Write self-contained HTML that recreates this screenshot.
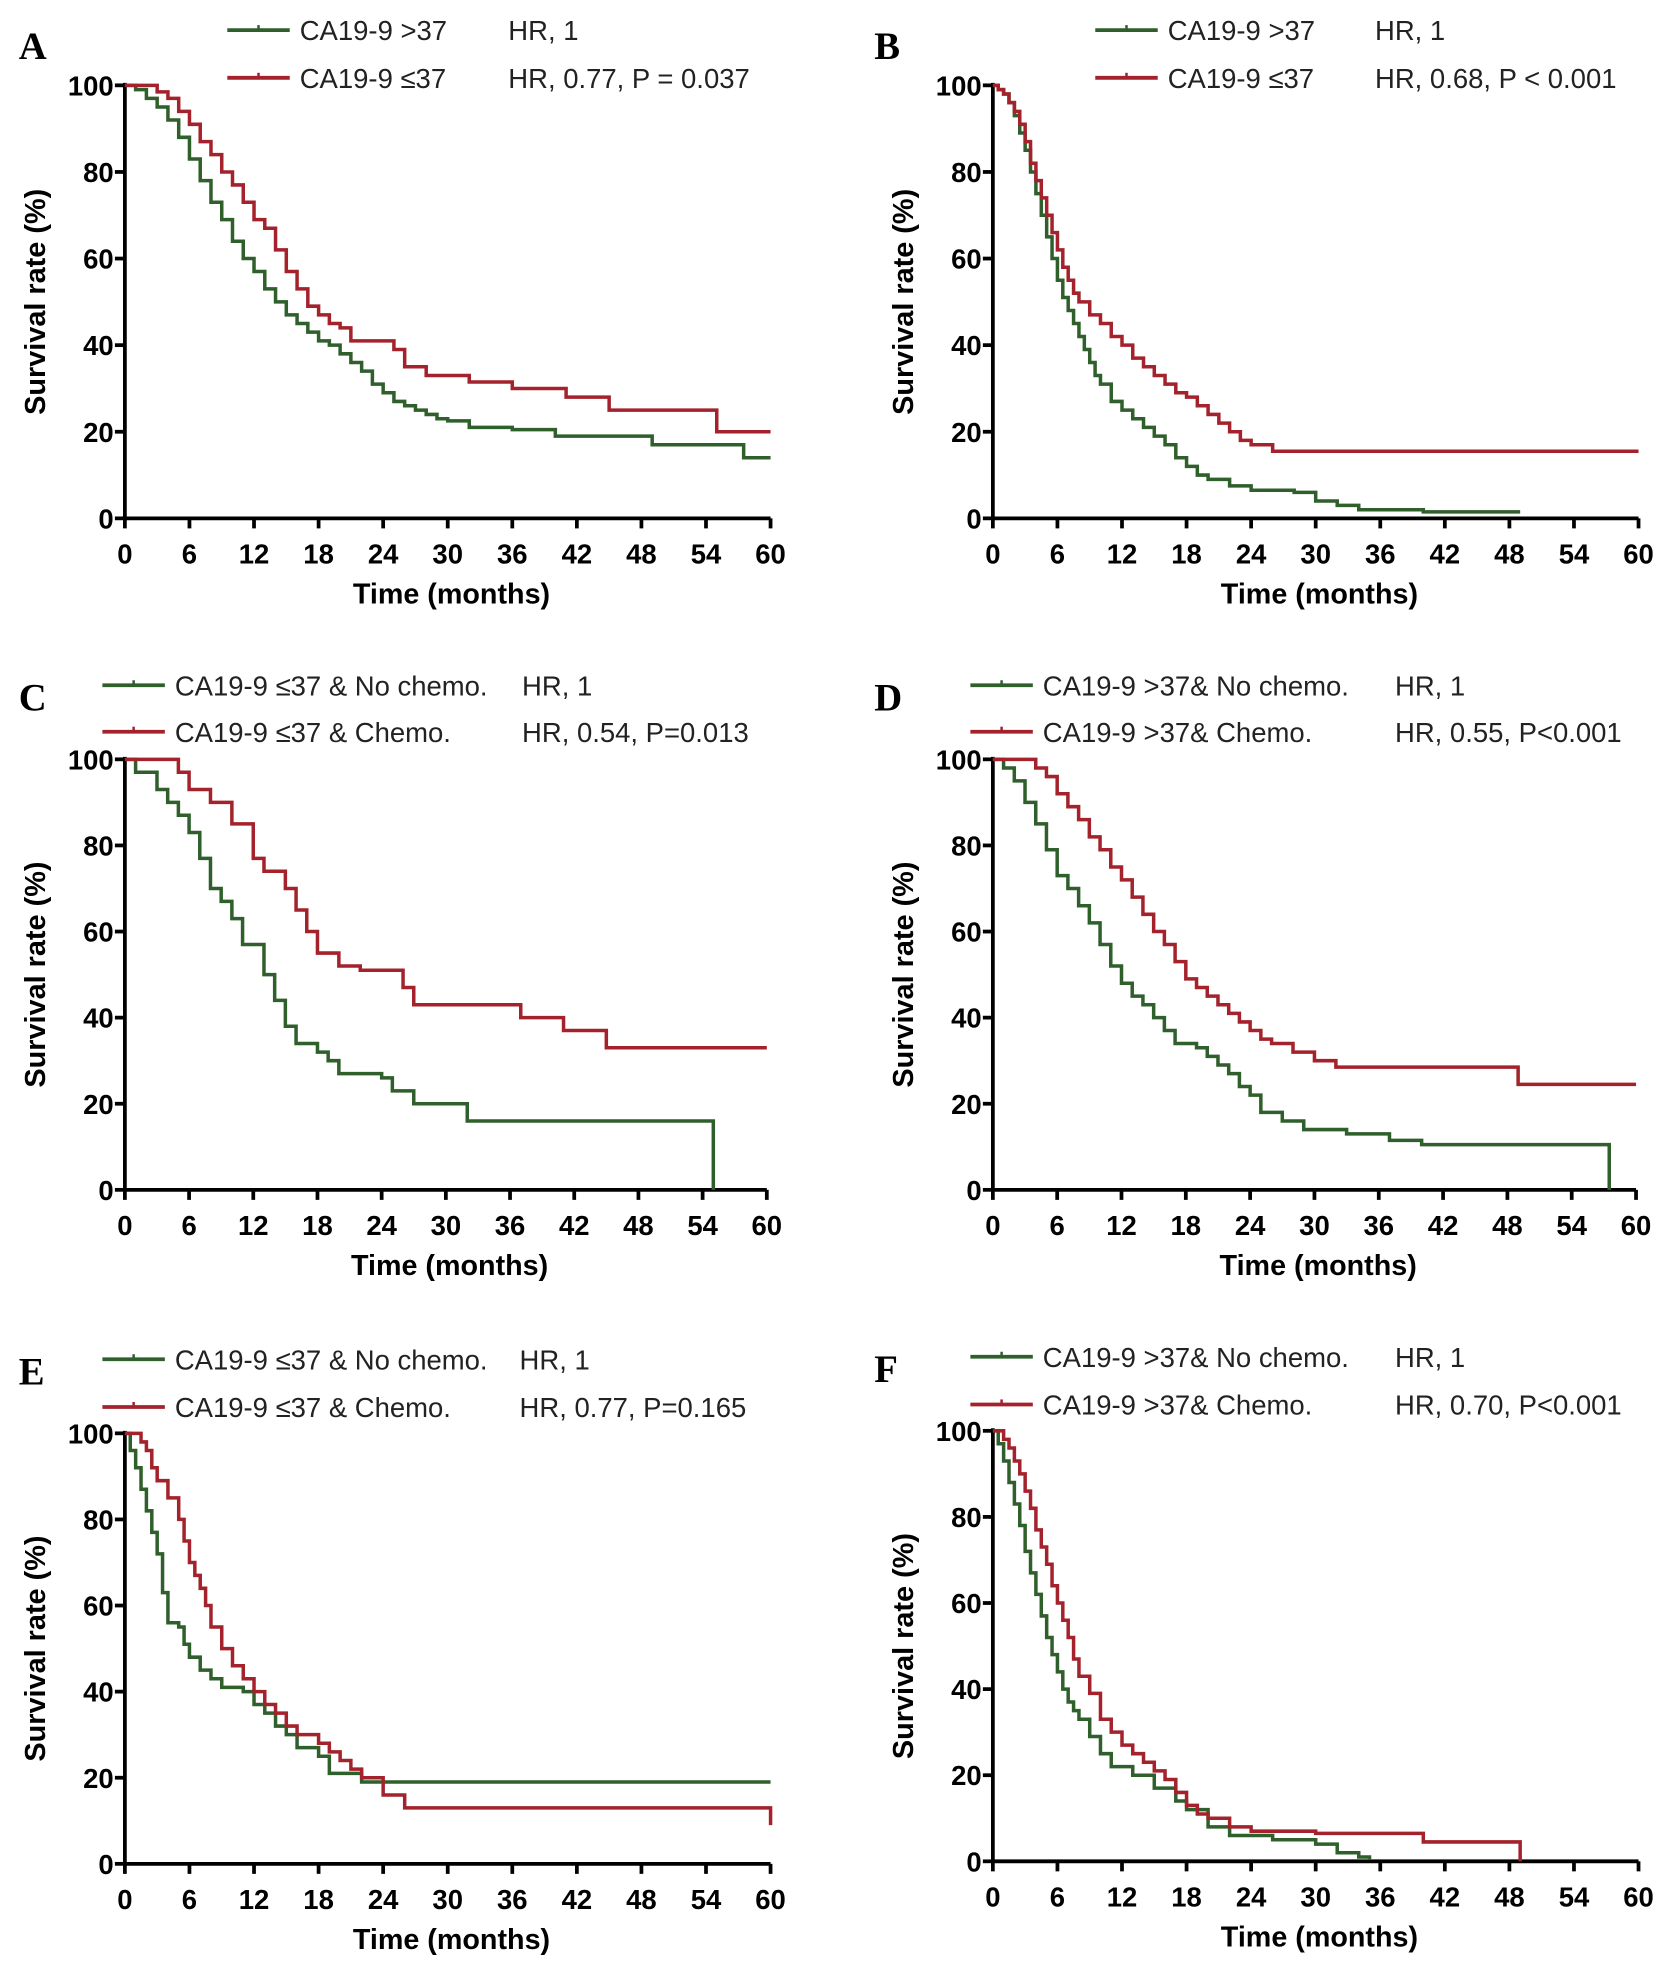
<!DOCTYPE html>
<html><head><meta charset="utf-8"><style>
html,body{margin:0;padding:0;background:#fff}
svg{display:block}
</style></head><body>
<svg id="fig" width="1676" height="1968" viewBox="0 0 1342 1568" preserveAspectRatio="none" xmlns="http://www.w3.org/2000/svg"></svg>
<script>
const xTicks=[0,6,12,18,24,30,36,42,48,54,60];
const yTicks=[0,20,40,60,80,100];
const aGreen=[[0,100],[1,99],[2,97],[3,95],[4,92],[5,88],[6,83],[7,78],[8,73],[9,69],[10,64],[11,60],[12,57],[13,53],[14,50],[15,47],[16,45],[17,43],[18,41],[19,40],[20,38],[21,36],[22,34],[23,31],[24,29],[25,27],[26,26],[27,25],[28,24],[29,23],[30,22.5],[32,21],[36,20.5],[40,19],[49,17],[57.5,14],[60,14]];
const aRed=[[0,100],[3,98.5],[4,97],[5,94],[6,91],[7,87],[8,84],[9,80],[10,77],[11,73],[12,69],[13,67],[14,62],[15,57],[16,53],[17,49],[18,47],[19,45],[20,44],[21,41],[25,39],[26,35],[28,33],[32,31.5],[36,30],[41,28],[45,25],[55,20],[60,20]];
const bGreen=[[0,100],[0.5,99],[1,98],[1.5,96],[2,93],[2.5,89],[3,85],[3.5,80],[4,75],[4.5,70],[5,65],[5.5,60],[6,55],[6.5,51],[7,48],[7.5,45],[8,42],[8.5,39],[9,36],[9.5,33],[10,31],[11,27],[12,25],[13,23],[14,21],[15,19],[16,17],[17,14],[18,12],[19,10],[20,9],[22,7.5],[24,6.5],[28,6],[30,4],[32,3],[34,2],[40,1.5],[49,1.5]];
const bRed=[[0,100],[0.5,99],[1,98],[1.5,96],[2,94],[2.5,91],[3,87],[3.5,82],[4,78],[4.5,74],[5,70],[5.5,66],[6,62],[6.5,58],[7,55],[7.5,52],[8,50],[9,47],[10,45],[11,42],[12,40],[13,37],[14,35],[15,33],[16,31],[17,29],[18,28],[19,26],[20,24],[21,22],[22,20],[23,18],[24,17],[26,15.5],[60,15.5]];
const cGreen=[[0,100],[1,97],[3,93],[4,90],[5,87],[6,83],[7,77],[8,70],[9,67],[10,63],[11,57],[13,50],[14,44],[15,38],[16,34],[18,32],[19,30],[20,27],[24,26],[25,23],[27,20],[32,16],[55,16],[55,0]];
const cRed=[[0,100],[4,100],[5,97],[6,93],[8,90],[10,85],[12,77],[13,74],[15,70],[16,65],[17,60],[18,55],[20,52],[22,51],[25,51],[26,47],[27,43],[37,40],[41,37],[45,33],[60,33]];
const dGreen=[[0,100],[1,98],[2,95],[3,90],[4,85],[5,79],[6,73],[7,70],[8,66],[9,62],[10,57],[11,52],[12,48],[13,45],[14,43],[15,40],[16,37],[17,34],[19,33],[20,31],[21,29],[22,27],[23,24],[24,22],[25,18],[27,16],[29,14],[33,13],[37,11.5],[40,10.5],[57.5,10],[57.5,0]];
const dRed=[[0,100],[3,100],[4,98],[5,96],[6,92],[7,89],[8,86],[9,82],[10,79],[11,75],[12,72],[13,68],[14,64],[15,60],[16,57],[17,53],[18,49],[19,47],[20,45],[21,43],[22,41],[23,39],[24,37],[25,35],[26,34],[28,32],[30,30],[32,28.5],[49,28.5],[49,24.5],[60,24.5]];
const eGreen=[[0,100],[0.5,96],[1,92],[1.5,87],[2,82],[2.5,77],[3,72],[3.5,63],[4,56],[5,55],[5.5,51],[6,48],[7,45],[8,43],[9,41],[11,40],[12,37],[13,35],[14,32],[15,30],[16,27],[18,25],[19,21],[22,19],[60,19]];
const eRed=[[0,100],[1,100],[1.5,98],[2,96],[2.5,92],[3,89],[4,85],[5,80],[5.5,75],[6,70],[6.5,67],[7,64],[7.5,60],[8,55],[9,50],[10,46],[11,43],[12,40],[13,37],[14,35],[15,32],[16,30],[18,28],[19,26],[20,24],[21,22],[22,20],[24,16],[26,13],[60,13],[60,9]];
const fGreen=[[0,100],[0.5,97],[1,93],[1.5,88],[2,83],[2.5,78],[3,72],[3.5,67],[4,62],[4.5,57],[5,52],[5.5,48],[6,44],[6.5,40],[7,37],[7.5,35],[8,33],[9,29],[10,25],[11,22],[13,20],[15,17],[17,14],[18,12],[20,8],[22,6],[26,5],[30,4],[32,2],[34,1],[35,0.5]];
const fRed=[[0,100],[1,98],[1.5,96],[2,93],[2.5,90],[3,86],[3.5,82],[4,77],[4.5,73],[5,69],[5.5,64],[6,60],[6.5,56],[7,52],[7.5,47],[8,43],[9,39],[10,33],[11,30],[12,27],[13,25],[14,23],[15,21],[16,19],[17,16],[18,13],[19,11],[20,10],[22,8],[24,7],[30,6.5],[40,4.5],[49,4.5],[49,0]];

const panels=[
 {id:'a',L:'A',x0:100,x1:617,y1:68,y0:413,ly:[24,62],lx:182,hx:407,g:aGreen,r:aRed,
  t:['CA19-9 >37','CA19-9  \u226437'],h:['HR, 1','HR, 0.77, P = 0.037'],lt:[15,47]},
 {id:'b',L:'B',x0:795,x1:1312,y1:68,y0:413,ly:[24,62],lx:877,hx:1101,g:bGreen,r:bRed,
  t:['CA19-9 >37','CA19-9  \u226437'],h:['HR, 1','HR, 0.68, P < 0.001'],lt:[700,47]},
 {id:'c',L:'C',x0:100,x1:614,y1:605,y0:948,ly:[546,583],lx:82,hx:418,g:cGreen,r:cRed,
  t:['CA19-9 \u226437 & No chemo.','CA19-9 \u226437 & Chemo.'],h:['HR, 1','HR, 0.54, P=0.013'],lt:[15,566]},
 {id:'d',L:'D',x0:795,x1:1310,y1:605,y0:948,ly:[546,583],lx:777,hx:1117,g:dGreen,r:dRed,
  t:['CA19-9 >37& No chemo.','CA19-9 >37& Chemo.'],h:['HR, 1','HR, 0.55, P<0.001'],lt:[700,566]},
 {id:'e',L:'E',x0:100,x1:617,y1:1142,y0:1485,ly:[1083,1121],lx:82,hx:416,g:eGreen,r:eRed,
  t:['CA19-9 \u226437 & No chemo.','CA19-9 \u226437 & Chemo.'],h:['HR, 1','HR, 0.77, P=0.165'],lt:[15,1103]},
 {id:'f',L:'F',x0:795,x1:1312,y1:1140,y0:1483,ly:[1081,1119],lx:777,hx:1117,g:fGreen,r:fRed,
  t:['CA19-9 >37& No chemo.','CA19-9 >37& Chemo.'],h:['HR, 1','HR, 0.70, P<0.001'],lt:[700,1101]}
];
const NS='http://www.w3.org/2000/svg';
const svg=document.getElementById('fig');
const SANS='"Liberation Sans", sans-serif';
function el(tag,attrs,parent,txt){const e=document.createElementNS(NS,tag);for(const k in attrs)e.setAttribute(k,attrs[k]);if(txt!==undefined)e.textContent=txt;(parent||svg).appendChild(e);return e;}
const GREEN='#2f5f2b',RED='#a3222b';
panels.forEach(p=>{
  const g=el('g',{});
  
  
  const X=v=>p.x0+(p.x1-p.x0)*v/60;
  const Y=v=>p.y0-(p.y0-p.y1)*v/100;
  const lt=el('text',{x:p.lt[0],y:p.lt[1],style:'font-family:"Liberation Serif",serif;font-weight:bold;font-size:31px'},g,p.L);
  
  
  const ax=el('path',{d:`M${p.x0},${p.y1-2}V${p.y0}H${p.x1}`,fill:'none',stroke:'#000','stroke-width':3},g);
  
  
  yTicks.forEach(v=>{
    el('line',{x1:p.x0-8,x2:p.x0,y1:Y(v),y2:Y(v),stroke:'#000','stroke-width':3},g);
    const t=el('text',{x:p.x0-9,y:Y(v)+8,'text-anchor':'end',style:`font-family:${SANS};font-weight:bold;font-size:22px`},g,v);
    
    
  });
  xTicks.forEach(v=>{
    el('line',{x1:X(v),x2:X(v),y1:p.y0,y2:p.y0+8,stroke:'#000','stroke-width':3},g);
    const t=el('text',{x:X(v),y:p.y0+36,'text-anchor':'middle',style:`font-family:${SANS};font-weight:bold;font-size:22px`},g,v);
    
    
  });
  const xt=el('text',{x:(p.x0+p.x1)/2+3,y:p.y0+68,'text-anchor':'middle',style:`font-family:${SANS};font-weight:bold;font-size:23px`},g,'Time (months)');
  
  
  const cy=(p.y0+p.y1)/2, tx=p.x0-64;
  const yt=el('text',{x:tx,y:cy,'text-anchor':'middle',style:`font-family:${SANS};font-weight:bold;font-size:23px`,transform:`rotate(-90 ${tx} ${cy})`},g,'Survival rate (%)');
  
  
  [[p.g,GREEN,'green'],[p.r,RED,'red']].forEach(([data,col,nm])=>{
    let d='M'+X(data[0][0])+','+Y(data[0][1]);
    for(let i=1;i<data.length;i++){d+='H'+X(data[i][0])+'V'+Y(data[i][1]);}
    const c=el('path',{d:d,fill:'none',stroke:col,'stroke-width':2.8},g);
    
    
  });
  [[GREEN,0],[RED,1]].forEach(([col,i])=>{
    const yy=p.ly[i];
    const ls=el('line',{x1:p.lx,x2:p.lx+50,y1:yy,y2:yy,stroke:col,'stroke-width':3},g);
    
    
    el('line',{x1:p.lx+25,x2:p.lx+25,y1:yy-4,y2:yy,stroke:col,'stroke-width':2},g);
    const lt1=el('text',{x:p.lx+58,y:yy+8,style:`font-family:${SANS};font-size:22px`,fill:'#222'},g,p.t[i]);
    
    
    const lt2=el('text',{x:p.hx,y:yy+8,style:`font-family:${SANS};font-size:22px`,fill:'#222'},g,p.h[i]);
    
    
  });
});
</script>
</body></html>
